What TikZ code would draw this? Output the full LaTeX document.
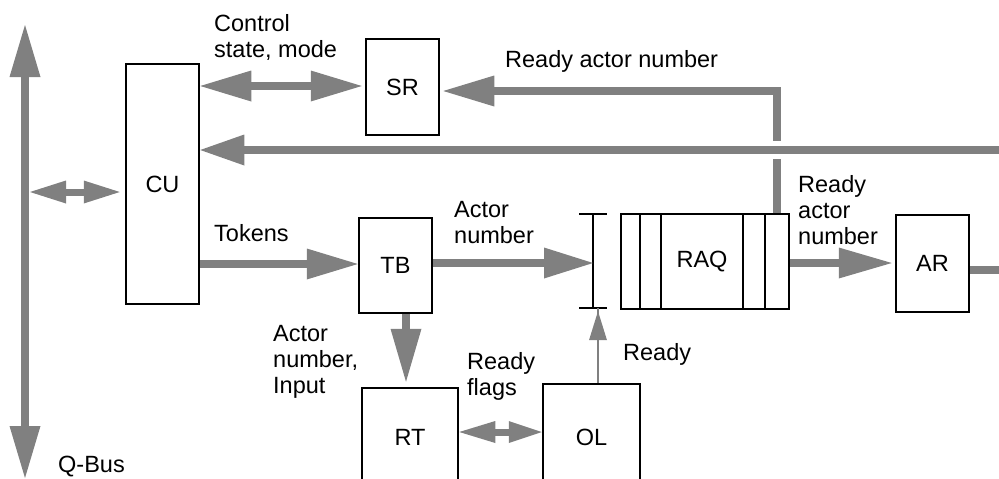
\documentclass[tikz,border=0pt]{standalone}
\usepackage{fontspec}
\setmainfont{Liberation Sans}
\usetikzlibrary{arrows.meta,calc}
\definecolor{bus}{RGB}{128,128,128}
\begin{document}
\begin{tikzpicture}[x=1pt,y=-1pt,
  font=\fontsize{23.5}{26}\selectfont,
  box/.style={draw=black,line width=2.5pt,inner sep=0pt,fill=white},
  lbl/.style={inner sep=0pt,align=left,anchor=base west},
  fat/.style={draw=bus,line width=8pt},
  mid/.style={draw=bus,line width=7pt},
  bigtip/.style={-{Triangle[length=#1,width=31pt,line width=0pt]}},
  both/.style={{Triangle[length=#1,width=31pt,line width=0pt]}-{Triangle[length=#1,width=31pt,line width=0pt]}},
  smallboth/.style={{Triangle[length=36pt,width=23pt,line width=0pt]}-{Triangle[length=36pt,width=23pt,line width=0pt]}}
]
\useasboundingbox (0,0) rectangle (999,479);
\clip (0,0) rectangle (999,479);

% nodes
\node[box,minimum width=73pt,minimum height=240pt] (CU) at (162.5,184) {CU};
\node[box,minimum width=73pt,minimum height=96pt] (SR) at (402.5,87) {SR};
\node[box,minimum width=73pt,minimum height=95pt] (TB) at (395.5,265.5) {TB};
\node[box,minimum width=96pt,minimum height=98pt] (RT) at (410,437) {RT};
\node[box,minimum width=97pt,minimum height=106pt] (OL) at (591.5,437) {OL};
\node[box,minimum width=73pt,minimum height=97pt] (AR) at (932.5,263.5) {AR};
\node[box,minimum width=168pt,minimum height=95pt] (RAQ) at (705,261.5) {};
\node at (702,262) {RAQ};
\foreach \xx in {640,661,743,765} \draw[line width=2.5pt] (\xx,214) -- (\xx,309);
\node[minimum width=27pt,minimum height=94pt,inner sep=0pt] (BR) at (593,261) {};
\draw[line width=2.5pt] (BR.north) -- (BR.south)
  (BR.north west) -- (BR.north east) (BR.south west) -- (BR.south east);

% coordinates
\coordinate (qtop) at (25,25);
\coordinate (qbot) at (25,478);
\coordinate (qmid) at (30,192);
\coordinate (rin) at (999,150);
\coordinate (rout) at (999,270);
\coordinate (raqtap) at (777,213);
\coordinate (srline) at (777,91);

% Q-Bus
\draw[fat,both=52pt] (qtop) -- (qbot);
\draw[mid,smallboth,shorten >=5pt] (qmid) -- (CU.west |- qmid);
% CU <-> SR
\draw[fat,both=51pt] (CU.east |- 0,86) -- ([xshift=-3pt]SR.west |- 0,86);
% RAQ -> SR
\draw[fat,bigtip=51pt,line join=miter] (raqtap) -- (srline) -- ([xshift=3pt]SR.east |- srline);
\draw[white,line width=10pt] (777,141) -- (777,159);
% right -> CU
\draw[fat,bigtip=44pt] (rin) -- (CU.east |- rin);
% CU -> TB
\draw[fat,bigtip=51pt] (CU.east |- 0,264) -- (TB.west |- 0,264);
% TB -> bracket
\draw[fat,bigtip=49pt] (TB.east |- 0,263) -- (BR.center |- 0,263);
% TB -> RT
\draw[fat,bigtip=53pt,shorten >=5pt] (TB.south -| 406,0) -- (RT.north -| 406,0);
% RAQ -> AR
\draw[fat,bigtip=53pt,shorten >=3pt] (RAQ.east |- 0,263) -- (AR.west |- 0,263);
% AR -> right
\draw[fat] (AR.east |- rout) -- (rout);
% RT <-> OL
\draw[mid,{Triangle[length=36pt,width=22pt,line width=0pt]}-{Triangle[length=33pt,width=22pt,line width=0pt]}] (RT.east |- 0,432) -- (OL.west |- 0,432);
% OL -> bracket
\draw[draw=bus,line width=2pt,-{Triangle[length=29pt,width=18pt,line width=0pt]}] (OL.north -| 598,0) -- (BR.south -| 598,0) ++(0,3);

% labels (anchored at baseline of last line)
\node[lbl] at (214,57) {Control\\state, mode};
\node[lbl] at (505,67) {Ready actor number};
\node[lbl] at (214,241) {Tokens};
\node[lbl] at (454,243) {Actor\\number};
\node[lbl] at (798,244) {Ready\\actor\\number};
\node[lbl] at (623,360) {Ready};
\node[lbl] at (273,393) {Actor\\number,\\Input};
\node[lbl] at (467,395) {Ready\\flags};
\node[lbl] at (58,472) {Q-Bus};
\end{tikzpicture}
\end{document}
